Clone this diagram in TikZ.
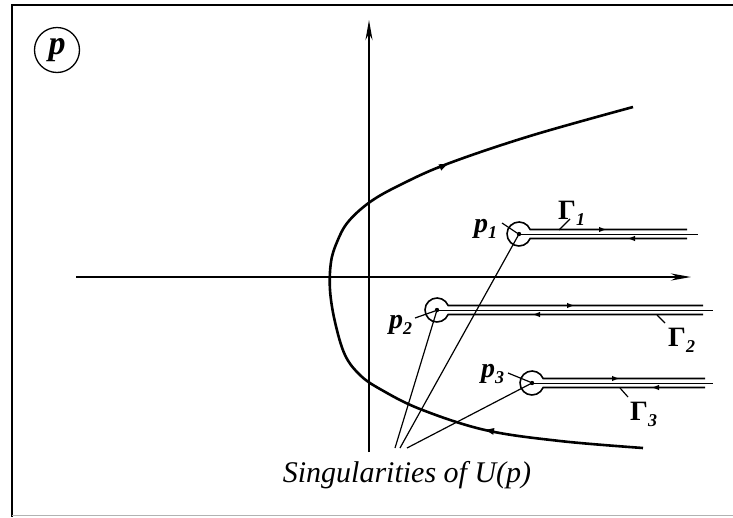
\documentclass[tikz,border=0pt]{standalone}
\usepackage{fontspec}
\setmainfont{Liberation Serif}
\usetikzlibrary{arrows.meta}
\tikzset{
  axisline/.style={line width=2.4pt},
  curveline/.style={line width=2.6pt},
  keyline/.style={line width=1.6pt},
  midline/.style={line width=1pt},
  leader/.style={line width=1.2pt},
  flow/.style={-{Latex[length=8pt,width=5.5pt]}, line width=1.6pt},
  lab/.style={font=\fontsize{28}{30}\selectfont\bfseries\itshape, inner sep=0pt, anchor=base west},
}
\newcommand{\keyhole}[4]{% cx, cy, end of outer lines, end of middle line
  \draw[keyline] (#3,#2-4.5) -- (#1+11.15,#2-4.5) arc[start angle=-22, end angle=-338, radius=12] -- (#3,#2+4.5);
  \draw[midline] (#1,#2) -- (#4,#2);
  \fill (#1,#2) circle (2.2);
}
\newcommand{\sub}[1]{\raisebox{-6pt}{\fontsize{18}{18}\selectfont #1}}
\begin{document}
\begin{tikzpicture}[x=1pt,y=-1pt]
\useasboundingbox (0,0) rectangle (733,517);
% frame
\draw[line width=2.6pt] (12,5) -- (733,5);
\draw[line width=2.4pt] (12,4) -- (12,517);
\draw[line width=1.2pt, black!30] (12,515.5) -- (733,515.5);
% (p) label
\node[circle, draw, line width=1.3pt, minimum size=45pt, inner sep=0pt, font=\fontsize{34}{36}\selectfont\bfseries\itshape] (plabel) at (57,50) {\raisebox{2pt}{p}};
% axes
\coordinate (vb) at (369,452);
\coordinate (vt) at (369,20);
\coordinate (hl) at (76,277);
\coordinate (hr) at (691,277);
\draw[axisline, -{Stealth[length=20pt,width=7pt]}] (vb) -- (vt);
\draw[axisline, -{Stealth[length=20pt,width=7pt]}] (hl) -- (hr);
% contour
\draw[curveline] plot[smooth, tension=0.6] coordinates {(643,448) (560,441) (485,430) (420,409) (380,389) (360,375) (345,355) (335,322) (330,290) (331,262) (337,242) (348,222) (370,202) (400,185) (447,164) (530,136) (633,107)};
\draw[-{Latex[length=10pt,width=7pt]}, line width=1pt] (437,168.7) -- (449,163.3);
\draw[-{Latex[length=10pt,width=7pt]}, line width=1pt] (497,432) -- (484,429.6);
% singularities and loops
\coordinate (s1) at (519,234);
\coordinate (s2) at (437,310);
\coordinate (s3) at (532,383);
\keyhole{519}{234}{687}{698}
\keyhole{437}{310}{703}{713}
\keyhole{532}{383}{705}{713}
% flow marks on loops
\draw[flow] (598,229.5) -- (607,229.5);
\draw[flow] (636,238.5) -- (627,238.5);
\draw[flow] (566,305.5) -- (575,305.5);
\draw[flow] (541,314.5) -- (532,314.5);
\draw[flow] (611,378.5) -- (620,378.5);
\draw[flow] (660,387.5) -- (651,387.5);
% labels
\node[lab] (p1) at (474,232) {p\sub{1}};
\node[lab] (g1) at (558,219) {{\upshape Γ}\sub{1}};
\node[lab] (p2) at (389,328) {p\sub{2}};
\node[lab] (g2) at (668,346) {{\upshape Γ}\sub{2}};
\node[lab] (p3) at (481,377) {p\sub{3}};
\node[lab] (g3) at (630,420) {{\upshape Γ}\sub{3}};
\coordinate (l1a) at (502,223); \coordinate (l1b) at (517,233);
\coordinate (lg1a) at (570,219); \coordinate (lg1b) at (559,230);
\coordinate (l2a) at (415,318); \coordinate (l2b) at (435,311);
\coordinate (lg2a) at (665,323); \coordinate (lg2b) at (657,315);
\coordinate (l3a) at (508,373); \coordinate (l3b) at (530,382);
\coordinate (lg3a) at (628,397); \coordinate (lg3b) at (620,388);
\draw[leader] (l1a) -- (l1b);
\draw[leader] (lg1a) -- (lg1b);
\draw[leader] (l2a) -- (l2b);
\draw[leader] (lg2a) -- (lg2b);
\draw[leader] (l3a) -- (l3b);
\draw[leader] (lg3a) -- (lg3b);
% caption
\node[font=\fontsize{30}{32}\selectfont\itshape, anchor=base, inner sep=0pt] (cap) at (407,482) {Singularities of U(p)};
\coordinate (c1) at (400,448);
\coordinate (c2) at (395,448);
\coordinate (c3) at (407,448);
\draw[leader] (s1) -- (c1);
\draw[leader] (s2) -- (c2);
\draw[leader] (s3) -- (c3);
\end{tikzpicture}
\end{document}
